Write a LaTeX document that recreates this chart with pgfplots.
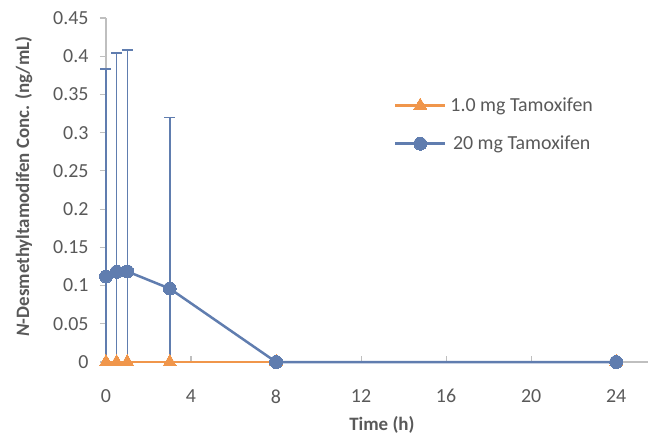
\documentclass[border=0pt]{standalone}
\usepackage{fontspec}
\setmainfont{Carlito}
\usepackage{pgfplots}
\pgfplotsset{compat=1.18}

\definecolor{tamblue}{RGB}{96,125,175}
\definecolor{tamorange}{RGB}{240,150,75}
\definecolor{axisgrey}{RGB}{191,191,191}
\definecolor{textgrey}{RGB}{89,89,89}

\begin{document}
\begin{tikzpicture}
    % fix page to the reference's 648x435 frame
    \useasboundingbox (-106bp,-73bp) rectangle (542bp,362bp);
    \begin{axis}[
            scale only axis,
            width=542bp, height=344bp,
            xmin=0, xmax=25.5,
            ymin=0, ymax=0.45,
            clip=false,
            axis x line*=bottom,
            axis y line*=left,
            axis line style={draw=axisgrey, line width=1.3bp, -},
            xtick={0,4,8,12,16,20,24},
            xticklabels={0,4,8,12,16,20,24},
            ytick={0,0.05,0.1,0.15,0.2,0.25,0.3,0.35,0.4,0.45},
            yticklabels={0,0.05,0.1,0.15,0.2,0.25,0.3,0.35,0.4,0.45},
            xtick pos=bottom, ytick pos=left,
            xtick align=inside,
            ytick align=outside,
            major tick length=6bp,
            tick style={draw=axisgrey, line width=1.1bp},
            tick label style={font=\fontsize{20}{24}\selectfont, text=textgrey},
            xticklabel style={yshift=-24bp},
            yticklabel style={xshift=-8bp},
            label style={font=\fontsize{19}{23}\selectfont\bfseries, text=textgrey},
            xlabel={Time (h)},
            ylabel={\textit{N}-Desmethyltamodifen Conc. (ng/mL)},
            xlabel style={at={(axis description cs:0.509,-0.183)}, anchor=center},
            ylabel style={at={(axis description cs:-0.152,0.51)}, anchor=center},
            legend style={
                at={(axis description cs:0.531,0.774)},
                anchor=north west,
                draw=none, fill=none,
                inner sep=0pt,
                font=\fontsize{20}{24}\selectfont,
                text=textgrey,
                row sep=19bp,
                /tikz/every odd column/.append style={column sep=2bp},
            },
            legend image code/.code={
                \draw[mark repeat=2, mark phase=2]
                    plot coordinates {(0bp,0bp) (25bp,0bp) (50bp,0bp)};
            },
        ]

        % lower halves of the 20 mg error bars (clipped at zero)
        \addplot[tamblue, line width=1.5bp, ycomb, no marks, forget plot] coordinates {
            (0,0.112) (0.5,0.118) (1,0.1185) (3,0.096)
        };

        \addplot[tamorange, line width=2.5bp, mark=triangle*,
                 mark size=7.5bp, mark options={solid, fill=tamorange, line width=0pt}]
            coordinates {
            (0,0) (0.5,0) (1,0) (3,0) (8,0) (24,0)
        };

        \addplot[tamblue, line width=2.5bp, mark=*,
                 mark size=6.5bp, mark options={solid, fill=tamblue, line width=0pt},
                 error bars/.cd, y dir=plus, y explicit,
                 error bar style={line width=1.5bp, tamblue},
                 error mark options={rotate=90, mark size=5.5bp, line width=1.5bp, tamblue}]
            coordinates {
            (0,0.112) +- (0,0.271)
            (0.5,0.118) +- (0,0.286)
            (1,0.1185) +- (0,0.2895)
            (3,0.096) +- (0,0.224)
            (8,0) +- (0,0)
            (24,0) +- (0,0)
        };

        \legend{1.0 mg Tamoxifen, 20 mg Tamoxifen}
    \end{axis}
\end{tikzpicture}
\end{document}
